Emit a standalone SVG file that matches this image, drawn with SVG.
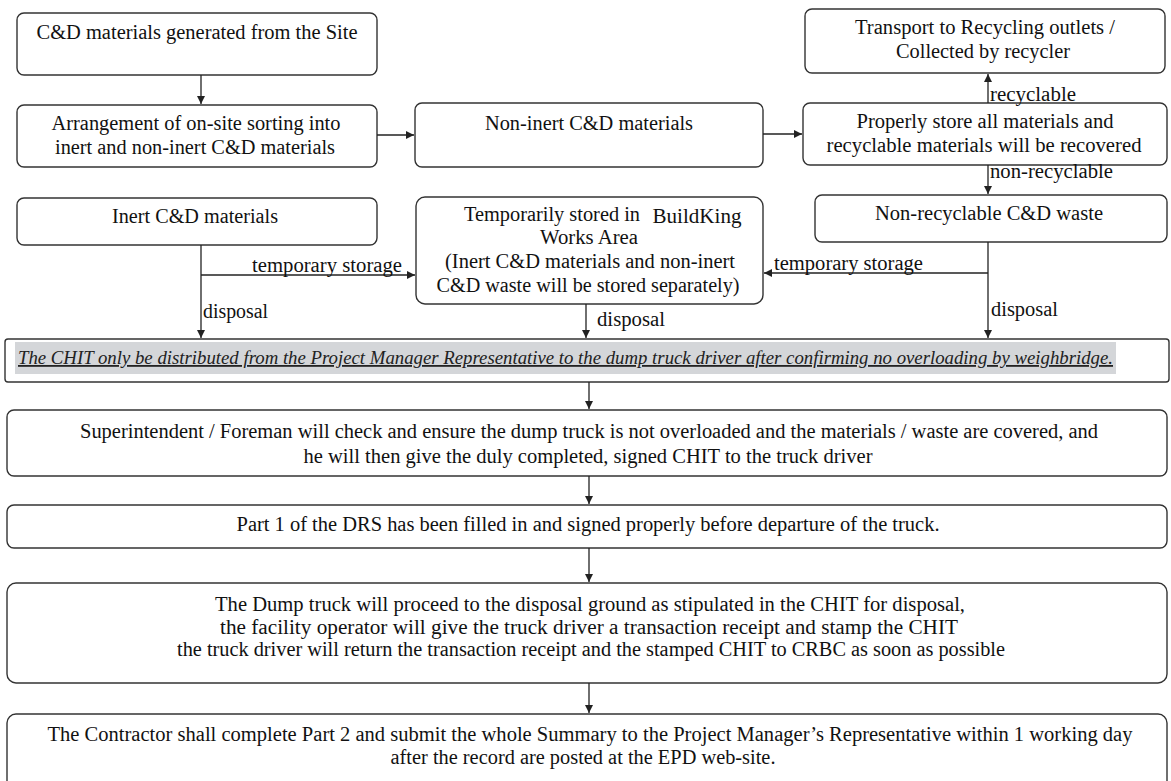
<svg xmlns="http://www.w3.org/2000/svg" width="1171" height="781" viewBox="0 0 1171 781">
<defs>
<marker id="ah" viewBox="0 0 10 10" refX="10" refY="5" markerWidth="8" markerHeight="8" markerUnits="userSpaceOnUse" orient="auto">
<path d="M0,0 L10,5 L0,10 z" fill="#222"/>
</marker>
<style>
.box{fill:#fff;stroke:#333;stroke-width:1.4}
.t{font-family:"Liberation Serif","Times New Roman",serif;font-size:20px;fill:#111;text-anchor:middle}
.l{font-family:"Liberation Serif","Times New Roman",serif;font-size:20px;fill:#111}
.c{stroke:#222;stroke-width:1.3;fill:none}
.ca{stroke:#222;stroke-width:1.3;fill:none;marker-end:url(#ah)}
</style>
</defs>
<rect width="1171" height="781" fill="#fff"/>

<g id="n1"><rect class="box" x="17" y="13" width="360" height="62" rx="7"/>
<text class="t" x="197" y="39" textLength="321" lengthAdjust="spacingAndGlyphs">C&amp;D materials generated from the Site</text></g>

<g id="n2"><rect class="box" x="17" y="105" width="360" height="62" rx="7"/>
<text class="t" x="196" y="130" textLength="289" lengthAdjust="spacingAndGlyphs">Arrangement of on-site sorting into</text>
<text class="t" x="195" y="154" textLength="280" lengthAdjust="spacingAndGlyphs">inert and non-inert C&amp;D materials</text></g>

<g id="n3"><rect class="box" x="415" y="103" width="348" height="64" rx="7"/>
<text class="t" x="589" y="130" textLength="208" lengthAdjust="spacingAndGlyphs">Non-inert C&amp;D materials</text></g>

<g id="n4"><rect class="box" x="803" y="103" width="364" height="62" rx="7"/>
<text class="t" x="985" y="128" textLength="257" lengthAdjust="spacingAndGlyphs">Properly store all materials and</text>
<text class="t" x="984" y="152" textLength="315" lengthAdjust="spacingAndGlyphs">recyclable materials will be recovered</text></g>

<g id="n5"><rect class="box" x="805" y="9" width="360" height="64" rx="7"/>
<text class="t" x="985" y="34" textLength="260" lengthAdjust="spacingAndGlyphs">Transport to Recycling outlets /</text>
<text class="t" x="983" y="58" textLength="174" lengthAdjust="spacingAndGlyphs">Collected by recycler</text></g>

<g id="n6"><rect class="box" x="815" y="195" width="352" height="47" rx="7"/>
<text class="t" x="989" y="220" textLength="228" lengthAdjust="spacingAndGlyphs">Non-recyclable C&amp;D waste</text></g>

<g id="n7"><rect class="box" x="17" y="198" width="360" height="47" rx="7"/>
<text class="t" x="195" y="223" textLength="166" lengthAdjust="spacingAndGlyphs">Inert C&amp;D materials</text></g>

<g id="n8"><rect class="box" x="416" y="197" width="347" height="107" rx="9"/>
<text class="t" x="552" y="221" textLength="176" lengthAdjust="spacingAndGlyphs">Temporarily stored in</text>
<text class="t" x="697" y="223" textLength="89" lengthAdjust="spacingAndGlyphs">BuildKing</text>
<text class="t" x="589" y="244" textLength="98" lengthAdjust="spacingAndGlyphs">Works Area</text>
<text class="t" x="590" y="268" textLength="290" lengthAdjust="spacingAndGlyphs">(Inert C&amp;D materials and non-inert</text>
<text class="t" x="588" y="292" textLength="303" lengthAdjust="spacingAndGlyphs">C&amp;D waste will be stored separately)</text></g>

<g id="n9"><rect class="box" x="5" y="339" width="1164" height="43" rx="3"/>
<rect x="15" y="342" width="1101" height="32" fill="#d4d6d9"/>
<text x="18" y="364" font-family="Liberation Serif, Times New Roman, serif" font-size="18" font-style="italic" text-decoration="underline" fill="#222" textLength="1095" lengthAdjust="spacingAndGlyphs">The CHIT only be distributed from the Project Manager Representative to the dump truck driver after confirming no overloading by weighbridge.</text></g>

<g id="n10"><rect class="box" x="7" y="410" width="1160" height="66" rx="7"/>
<text class="t" x="589" y="438" textLength="1018" lengthAdjust="spacingAndGlyphs">Superintendent / Foreman will check and ensure the dump truck is not overloaded and the materials / waste are covered, and</text>
<text class="t" x="588" y="463" textLength="569" lengthAdjust="spacingAndGlyphs">he will then give the duly completed, signed CHIT to the truck driver</text></g>

<g id="n11"><rect class="box" x="7" y="505" width="1160" height="43" rx="7"/>
<text class="t" x="588" y="531" textLength="703" lengthAdjust="spacingAndGlyphs">Part 1 of the DRS has been filled in and signed properly before departure of the truck.</text></g>

<g id="n12"><rect class="box" x="7" y="583" width="1160" height="100" rx="9"/>
<text class="t" x="590" y="611" textLength="750" lengthAdjust="spacingAndGlyphs">The Dump truck will proceed to the disposal ground as stipulated in the CHIT for disposal,</text>
<text class="t" x="589" y="634" textLength="738" lengthAdjust="spacingAndGlyphs">the facility operator will give the truck driver a transaction receipt and stamp the CHIT</text>
<text class="t" x="591" y="656" textLength="828" lengthAdjust="spacingAndGlyphs">the truck driver will return the transaction receipt and the stamped CHIT to CRBC as soon as possible</text></g>

<g id="n13"><rect class="box" x="7" y="714" width="1160" height="90" rx="9"/>
<text class="t" x="590" y="741" textLength="1085" lengthAdjust="spacingAndGlyphs">The Contractor shall complete Part 2 and submit the whole Summary to the Project Manager’s Representative within 1 working day</text>
<text class="t" x="583" y="764" textLength="385" lengthAdjust="spacingAndGlyphs">after the record are posted at the EPD web-site.</text></g>

<g id="connectors">
<line class="ca" x1="201" y1="75" x2="201" y2="104"/>
<line class="ca" x1="377" y1="135" x2="414" y2="135"/>
<line class="ca" x1="763" y1="134" x2="802" y2="134"/>
<line class="ca" x1="988" y1="103" x2="988" y2="74"/>
<line class="ca" x1="988" y1="165" x2="988" y2="194"/>
<line class="ca" x1="201" y1="245" x2="201" y2="338"/>
<line class="ca" x1="201" y1="275" x2="415" y2="275"/>
<line class="ca" x1="988" y1="242" x2="988" y2="338"/>
<line class="ca" x1="988" y1="273" x2="764" y2="273"/>
<line class="ca" x1="586" y1="304" x2="586" y2="338"/>
<line class="ca" x1="589" y1="382" x2="589" y2="409"/>
<line class="ca" x1="589" y1="476" x2="589" y2="504"/>
<line class="ca" x1="589" y1="548" x2="589" y2="582"/>
<line class="ca" x1="589" y1="683" x2="589" y2="713"/>
<text class="l" x="252" y="272" textLength="150" lengthAdjust="spacingAndGlyphs">temporary storage</text>
<text class="l" x="774" y="270" textLength="149" lengthAdjust="spacingAndGlyphs">temporary storage</text>
<text class="l" x="990" y="101" textLength="86" lengthAdjust="spacingAndGlyphs">recyclable</text>
<text class="l" x="990" y="178" textLength="123" lengthAdjust="spacingAndGlyphs">non-recyclable</text>
<text class="l" x="203" y="318" textLength="65" lengthAdjust="spacingAndGlyphs">disposal</text>
<text class="l" x="597" y="326" textLength="68" lengthAdjust="spacingAndGlyphs">disposal</text>
<text class="l" x="991" y="316" textLength="67" lengthAdjust="spacingAndGlyphs">disposal</text>
</g>
</svg>
